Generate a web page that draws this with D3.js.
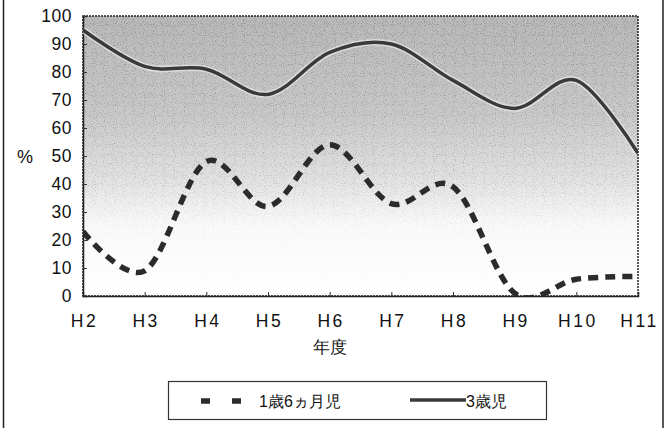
<!DOCTYPE html>
<html>
<head>
<meta charset="utf-8">
<script src="https://cdn.jsdelivr.net/npm/d3@7"></script>
<style>
  body { margin: 0; background: #fff; }
  svg text { font-family: "Liberation Sans", Arial, sans-serif; fill: #111; }
</style>
</head>
<body>
<svg id="chart" width="666" height="428"></svg>
<script>
// data
const years = ['H2', 'H3', 'H4', 'H5', 'H6', 'H7', 'H8', 'H9', 'H10', 'H11'];
const infant18m = [23, 9, 48, 32, 54, 33, 39, 1, 6, 7];      // 1歳6ヵ月児
const child3y = [95, 82, 81, 72, 87, 90, 77, 67, 77, 51];     // 3歳児
const yTicks = [0, 10, 20, 30, 40, 50, 60, 70, 80, 90, 100];
const seriesNames = ['1歳6ヵ月児', '3歳児'];

const svg = d3.select('#chart');
const plot = { left: 83, right: 638, top: 16, bottom: 296 };

// outer frame of the page (cut off at top/bottom)
svg.append('line').attr('x1', 3.5).attr('x2', 3.5).attr('y1', 0).attr('y2', 428)
    .attr('stroke', '#222').attr('stroke-width', 1.5);
svg.append('line').attr('x1', 663).attr('x2', 663).attr('y1', 0).attr('y2', 428)
    .attr('stroke', '#222').attr('stroke-width', 1.5);

const x = d3.scalePoint().domain(years).range([plot.left, plot.right]);
const y = d3.scaleLinear().domain([0, 100]).range([plot.bottom, plot.top]);

const defs = svg.append('defs');
const grad = defs.append('linearGradient').attr('id', 'bg')
    .attr('x1', 0).attr('y1', 0).attr('x2', 0).attr('y2', 1);
grad.append('stop').attr('offset', '0%').attr('stop-color', '#b9b9b9');
grad.append('stop').attr('offset', '35%').attr('stop-color', '#c9c9c9');
grad.append('stop').attr('offset', '58%').attr('stop-color', '#e2e2e2');
grad.append('stop').attr('offset', '74%').attr('stop-color', '#f9f9f9');
grad.append('stop').attr('offset', '100%').attr('stop-color', '#ffffff');

// grainy scan texture
const noise = defs.append('filter').attr('id', 'grain')
    .attr('x', 0).attr('y', 0).attr('width', 1).attr('height', 1);
noise.append('feTurbulence').attr('type', 'fractalNoise')
    .attr('baseFrequency', 0.9).attr('numOctaves', 1).attr('seed', 3).attr('result', 't');
noise.append('feColorMatrix').attr('in', 't').attr('type', 'matrix')
    .attr('values', '0 0 0 0 0  0 0 0 0 0  0 0 0 0 0  0 0 0 -1.8 0.85').attr('result', 'n');
noise.append('feComposite').attr('in', 'n').attr('in2', 'SourceGraphic').attr('operator', 'in');

defs.append('clipPath').attr('id', 'clip').append('rect')
    .attr('x', plot.left).attr('y', plot.top)
    .attr('width', plot.right - plot.left).attr('height', plot.bottom - plot.top);

svg.append('rect')
    .attr('x', plot.left).attr('y', plot.top)
    .attr('width', plot.right - plot.left).attr('height', plot.bottom - plot.top)
    .attr('fill', 'url(#bg)');

// gradient mask for grain so it fades with the shading
const fade = defs.append('linearGradient').attr('id', 'fade')
    .attr('x1', 0).attr('y1', 0).attr('x2', 0).attr('y2', 1);
fade.append('stop').attr('offset', '0%').attr('stop-color', '#fff').attr('stop-opacity', 0.55);
fade.append('stop').attr('offset', '60%').attr('stop-color', '#fff').attr('stop-opacity', 0.35);
fade.append('stop').attr('offset', '78%').attr('stop-color', '#fff').attr('stop-opacity', 0.08);
fade.append('stop').attr('offset', '100%').attr('stop-color', '#fff').attr('stop-opacity', 0);
defs.append('mask').attr('id', 'fadeMask').append('rect')
    .attr('x', plot.left).attr('y', plot.top)
    .attr('width', plot.right - plot.left).attr('height', plot.bottom - plot.top)
    .attr('fill', 'url(#fade)');

svg.append('rect')
    .attr('x', plot.left).attr('y', plot.top)
    .attr('width', plot.right - plot.left).attr('height', plot.bottom - plot.top)
    .attr('fill', '#6a6a6a').attr('filter', 'url(#grain)').attr('mask', 'url(#fadeMask)');

svg.append('rect')
    .attr('x', plot.left).attr('y', plot.top)
    .attr('width', plot.right - plot.left).attr('height', plot.bottom - plot.top)
    .attr('fill', 'none').attr('stroke', '#222').attr('stroke-width', 1.5)
    .attr('stroke-dasharray', '2,1');

// axes
const yAxis = svg.append('g')
    .attr('transform', `translate(${plot.left},0)`)
    .call(d3.axisLeft(y).tickValues(yTicks).tickSize(-4).tickPadding(11));
const xAxis = svg.append('g')
    .attr('transform', `translate(0,${plot.bottom})`)
    .call(d3.axisBottom(x).tickSize(-4).tickPadding(19));
[yAxis, xAxis].forEach(g => {
    g.select('.domain').attr('stroke', '#222').attr('stroke-width', 1.5);
    g.selectAll('.tick line').attr('stroke', '#333');
    g.selectAll('text').attr('font-size', 17.5).attr('fill', '#111')
        .style('font-family', '"Liberation Sans", Arial, sans-serif');
});
yAxis.selectAll('text').style('letter-spacing', '0.5px');
xAxis.selectAll('text').style('letter-spacing', '2.5px').attr('dx', '1px');
xAxis.selectAll('.tick line').filter((d, i) => i === 0 || i === years.length - 1).remove();

svg.append('text').attr('x', 25).attr('y', 163).attr('text-anchor', 'middle')
    .attr('font-size', 18).text('%');
svg.append('text').attr('x', 330).attr('y', 353).attr('text-anchor', 'middle')
    .attr('font-size', 17).text('年度');

// lines
const line = d3.line()
    .x((d, i) => x(years[i]))
    .y(d => y(d))
    .curve(d3.curveCatmullRom.alpha(0));

const lines = svg.append('g').attr('clip-path', 'url(#clip)');
lines.append('path').datum(child3y)
    .attr('d', line).attr('fill', 'none')
    .attr('stroke', '#f2f2f2').attr('stroke-width', 6.5).attr('opacity', 0.6);
lines.append('path').datum(child3y)
    .attr('d', line).attr('fill', 'none')
    .attr('stroke', '#3a3a3a').attr('stroke-width', 3.5);
lines.append('path').datum(infant18m)
    .attr('d', line).attr('fill', 'none')
    .attr('stroke', '#2b2b2b').attr('stroke-width', 5.5)
    .attr('stroke-dasharray', '10,7');

// legend
const legend = svg.append('g');
legend.append('rect').attr('x', 168.5).attr('y', 381.5).attr('width', 378).attr('height', 38)
    .attr('fill', '#fff').attr('stroke', '#333').attr('stroke-width', 1.2);
legend.append('line').attr('x1', 201).attr('x2', 246).attr('y1', 401).attr('y2', 401)
    .attr('stroke', '#2b2b2b').attr('stroke-width', 5.5).attr('stroke-dasharray', '9,22');
legend.append('text').attr('x', 259).attr('y', 407).attr('font-size', 16).text(seriesNames[0]);
legend.append('line').attr('x1', 410).attr('x2', 466).attr('y1', 400).attr('y2', 400)
    .attr('stroke', '#3a3a3a').attr('stroke-width', 3.5);
legend.append('text').attr('x', 466).attr('y', 407).attr('font-size', 16).text(seriesNames[1]);
</script>
</body>
</html>
